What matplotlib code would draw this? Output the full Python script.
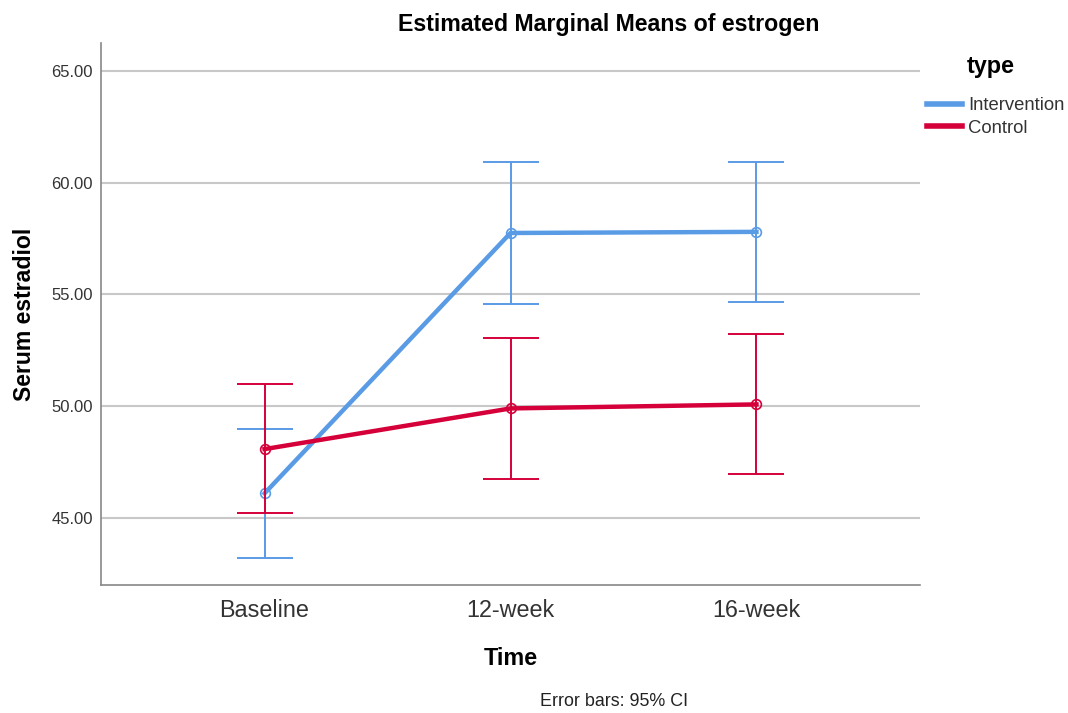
import numpy as np
import matplotlib.pyplot as plt

plt.rcParams['font.family'] = ['Liberation Sans', 'DejaVu Sans']

# Data
time_labels = ["Baseline", "12-week", "16-week"]
intervention_mean = [46.1, 57.75, 57.8]
intervention_low = [43.2, 54.57, 54.65]
intervention_high = [48.97, 60.92, 60.93]
control_mean = [48.08, 49.9, 50.08]
control_low = [45.2, 46.74, 46.97]
control_high = [50.98, 53.05, 53.24]

BLUE = "#5a9be6"
RED = "#d5003a"

fig = plt.figure(figsize=(10.68, 7.13), dpi=100)
ax = fig.add_axes([101 / 1068, 1 - 585 / 713, (920 - 101) / 1068, (585 - 43) / 713])

x = np.arange(len(time_labels))

def draw_series(mean, low, high, color, label, z):
    mean = np.array(mean)
    yerr = [mean - np.array(low), np.array(high) - mean]
    ax.errorbar(x, mean, yerr=yerr, fmt="none", ecolor=color, elinewidth=1.4,
                capsize=20, capthick=1.4, zorder=z)
    ax.plot(x, mean, color=color, linewidth=3.2, label=label, zorder=z + 1)
    ax.plot(x, mean, "o", markersize=7, markerfacecolor="none",
            markeredgecolor=color, markeredgewidth=1.2, zorder=z + 2)

draw_series(intervention_mean, intervention_low, intervention_high, BLUE, "Intervention", 3)
draw_series(control_mean, control_low, control_high, RED, "Control", 6)

ax.set_xlim(-0.665, 2.665)
ax.set_ylim(42.0, 66.25)
ax.set_yticks([45, 50, 55, 60, 65])
ax.set_yticklabels([f"{v:.2f}" for v in [45, 50, 55, 60, 65]], fontsize=12, color="#333333")
ax.set_xticks(x)
ax.set_xticklabels(time_labels, fontsize=16.8, color="#333333")
ax.tick_params(axis="both", length=0)
ax.tick_params(axis="y", pad=6)
ax.tick_params(axis="x", pad=10)

ax.yaxis.grid(True, color="#c8c8c8", linewidth=1.5)
ax.set_axisbelow(True)
for s in ["top", "right"]:
    ax.spines[s].set_visible(False)
for s in ["left", "bottom"]:
    ax.spines[s].set_color("#888888")
    ax.spines[s].set_linewidth(1.2)

ax.set_ylabel("Serum estradiol", fontsize=16.6, fontweight="bold", labelpad=11)
ax.set_xlabel("Time", fontsize=16.8, fontweight="bold", labelpad=18)

fig.text(609 / 1068, 1 - 24 / 713, "Estimated Marginal Means of estrogen",
         ha="center", va="center", fontsize=16.7, fontweight="bold")
fig.text(614 / 1068, 1 - 701 / 713, "Error bars: 95% CI", ha="center", va="center",
         fontsize=12.9, color="#222222")

fig.text(967 / 1068, 1 - 67 / 713, "type", ha="left", va="center",
         fontsize=16.8, fontweight="bold")
leg = fig.legend(loc="upper left", bbox_to_anchor=(920 / 1068, 1 - 90 / 713),
                 frameon=False, fontsize=13.3, handlelength=1.9,
                 handletextpad=0.3, labelspacing=0.3, borderaxespad=0)
for t in leg.get_texts():
    t.set_color("#333333")
for h in leg.legend_handles:
    h.set_linewidth(4)

fig.savefig("out.png", dpi=100)
